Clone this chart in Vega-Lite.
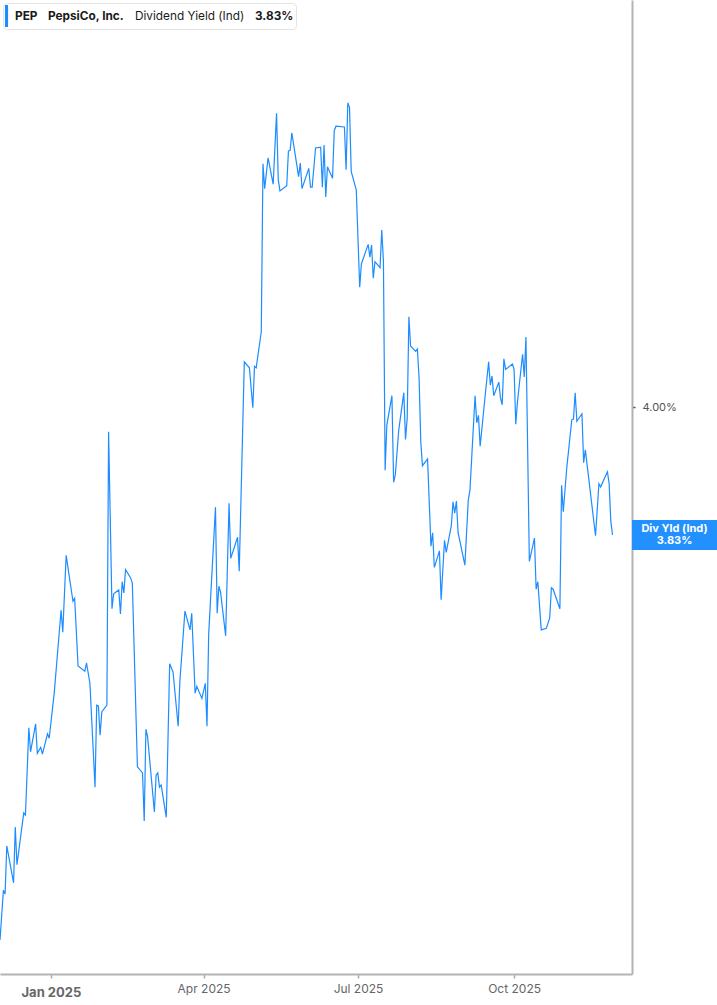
{
  "$schema": "https://vega.github.io/schema/vega-lite/v6.json",
  "autosize": {"type": "none"},
  "width": 632,
  "height": 974,
  "padding": {"left": 0, "top": 0, "right": 85, "bottom": 31},
  "background": "white",
  "config": {"view": {"stroke": null}, "font": "Inter"},
  "layer": [
    {
      "data": {"values": [
        {"date": "2024-12-02", "v": 3.292}, {"date": "2024-12-04", "v": 3.358}, {"date": "2024-12-05", "v": 3.353}, {"date": "2024-12-06", "v": 3.417},
        {"date": "2024-12-10", "v": 3.368}, {"date": "2024-12-11", "v": 3.442}, {"date": "2024-12-12", "v": 3.392}, {"date": "2024-12-16", "v": 3.461},
        {"date": "2024-12-17", "v": 3.458}, {"date": "2024-12-19", "v": 3.574}, {"date": "2024-12-20", "v": 3.542}, {"date": "2024-12-23", "v": 3.579},
        {"date": "2024-12-24", "v": 3.540}, {"date": "2024-12-26", "v": 3.548}, {"date": "2024-12-27", "v": 3.539}, {"date": "2024-12-30", "v": 3.566},
        {"date": "2024-12-31", "v": 3.560}, {"date": "2025-01-03", "v": 3.621}, {"date": "2025-01-07", "v": 3.730}, {"date": "2025-01-08", "v": 3.701},
        {"date": "2025-01-10", "v": 3.803}, {"date": "2025-01-14", "v": 3.742}, {"date": "2025-01-15", "v": 3.746}, {"date": "2025-01-17", "v": 3.656},
        {"date": "2025-01-21", "v": 3.649}, {"date": "2025-01-22", "v": 3.660}, {"date": "2025-01-24", "v": 3.633}, {"date": "2025-01-27", "v": 3.495},
        {"date": "2025-01-28", "v": 3.604}, {"date": "2025-01-29", "v": 3.603}, {"date": "2025-01-30", "v": 3.564}, {"date": "2025-01-31", "v": 3.595},
        {"date": "2025-02-03", "v": 3.604}, {"date": "2025-02-04", "v": 3.967}, {"date": "2025-02-06", "v": 3.732}, {"date": "2025-02-07", "v": 3.752},
        {"date": "2025-02-10", "v": 3.757}, {"date": "2025-02-11", "v": 3.725}, {"date": "2025-02-12", "v": 3.768}, {"date": "2025-02-13", "v": 3.753},
        {"date": "2025-02-14", "v": 3.784}, {"date": "2025-02-17", "v": 3.773}, {"date": "2025-02-18", "v": 3.766}, {"date": "2025-02-21", "v": 3.522},
        {"date": "2025-02-24", "v": 3.514}, {"date": "2025-02-25", "v": 3.450}, {"date": "2025-02-26", "v": 3.572}, {"date": "2025-02-27", "v": 3.562},
        {"date": "2025-03-03", "v": 3.462}, {"date": "2025-03-04", "v": 3.511}, {"date": "2025-03-05", "v": 3.514}, {"date": "2025-03-06", "v": 3.495},
        {"date": "2025-03-07", "v": 3.498}, {"date": "2025-03-10", "v": 3.455}, {"date": "2025-03-12", "v": 3.659}, {"date": "2025-03-14", "v": 3.648},
        {"date": "2025-03-17", "v": 3.576}, {"date": "2025-03-18", "v": 3.635}, {"date": "2025-03-21", "v": 3.729}, {"date": "2025-03-24", "v": 3.704},
        {"date": "2025-03-25", "v": 3.726}, {"date": "2025-03-27", "v": 3.620}, {"date": "2025-03-28", "v": 3.629}, {"date": "2025-03-31", "v": 3.613},
        {"date": "2025-04-02", "v": 3.633}, {"date": "2025-04-03", "v": 3.576}, {"date": "2025-04-04", "v": 3.698}, {"date": "2025-04-08", "v": 3.867},
        {"date": "2025-04-09", "v": 3.726}, {"date": "2025-04-10", "v": 3.762}, {"date": "2025-04-11", "v": 3.754}, {"date": "2025-04-14", "v": 3.696},
        {"date": "2025-04-16", "v": 3.872}, {"date": "2025-04-17", "v": 3.799}, {"date": "2025-04-21", "v": 3.827}, {"date": "2025-04-22", "v": 3.782},
        {"date": "2025-04-25", "v": 4.060}, {"date": "2025-04-28", "v": 4.052}, {"date": "2025-04-30", "v": 3.999}, {"date": "2025-05-01", "v": 4.054},
        {"date": "2025-05-02", "v": 4.052}, {"date": "2025-05-05", "v": 4.100}, {"date": "2025-05-06", "v": 4.323}, {"date": "2025-05-07", "v": 4.290},
        {"date": "2025-05-09", "v": 4.331}, {"date": "2025-05-12", "v": 4.296}, {"date": "2025-05-14", "v": 4.390}, {"date": "2025-05-15", "v": 4.302},
        {"date": "2025-05-16", "v": 4.287}, {"date": "2025-05-20", "v": 4.294}, {"date": "2025-05-21", "v": 4.340}, {"date": "2025-05-22", "v": 4.341},
        {"date": "2025-05-23", "v": 4.364}, {"date": "2025-05-27", "v": 4.306}, {"date": "2025-05-28", "v": 4.324}, {"date": "2025-05-29", "v": 4.290},
        {"date": "2025-06-02", "v": 4.317}, {"date": "2025-06-03", "v": 4.292}, {"date": "2025-06-04", "v": 4.292}, {"date": "2025-06-06", "v": 4.344},
        {"date": "2025-06-09", "v": 4.345}, {"date": "2025-06-10", "v": 4.292}, {"date": "2025-06-11", "v": 4.348}, {"date": "2025-06-12", "v": 4.279},
        {"date": "2025-06-13", "v": 4.319}, {"date": "2025-06-16", "v": 4.304}, {"date": "2025-06-17", "v": 4.367}, {"date": "2025-06-18", "v": 4.373},
        {"date": "2025-06-23", "v": 4.372}, {"date": "2025-06-24", "v": 4.315}, {"date": "2025-06-25", "v": 4.404}, {"date": "2025-06-26", "v": 4.398},
        {"date": "2025-06-27", "v": 4.313}, {"date": "2025-06-30", "v": 4.288}, {"date": "2025-07-02", "v": 4.159}, {"date": "2025-07-03", "v": 4.190},
        {"date": "2025-07-07", "v": 4.216}, {"date": "2025-07-08", "v": 4.199}, {"date": "2025-07-09", "v": 4.215}, {"date": "2025-07-10", "v": 4.171},
        {"date": "2025-07-11", "v": 4.193}, {"date": "2025-07-14", "v": 4.185}, {"date": "2025-07-15", "v": 4.235}, {"date": "2025-07-16", "v": 4.193},
        {"date": "2025-07-17", "v": 3.916}, {"date": "2025-07-18", "v": 3.976}, {"date": "2025-07-21", "v": 4.015}, {"date": "2025-07-22", "v": 3.900},
        {"date": "2025-07-23", "v": 3.910}, {"date": "2025-07-25", "v": 3.969}, {"date": "2025-07-28", "v": 4.019}, {"date": "2025-07-29", "v": 3.957},
        {"date": "2025-07-30", "v": 3.985}, {"date": "2025-07-31", "v": 4.120}, {"date": "2025-08-01", "v": 4.081}, {"date": "2025-08-04", "v": 4.074},
        {"date": "2025-08-05", "v": 4.077}, {"date": "2025-08-06", "v": 4.039}, {"date": "2025-08-07", "v": 3.954}, {"date": "2025-08-08", "v": 3.922},
        {"date": "2025-08-11", "v": 3.931}, {"date": "2025-08-13", "v": 3.815}, {"date": "2025-08-14", "v": 3.833}, {"date": "2025-08-15", "v": 3.787},
        {"date": "2025-08-18", "v": 3.809}, {"date": "2025-08-19", "v": 3.744}, {"date": "2025-08-21", "v": 3.823}, {"date": "2025-08-22", "v": 3.807},
        {"date": "2025-08-25", "v": 3.842}, {"date": "2025-08-26", "v": 3.874}, {"date": "2025-08-27", "v": 3.859}, {"date": "2025-08-28", "v": 3.875},
        {"date": "2025-08-29", "v": 3.833}, {"date": "2025-09-02", "v": 3.790}, {"date": "2025-09-04", "v": 3.876}, {"date": "2025-09-05", "v": 3.890},
        {"date": "2025-09-08", "v": 4.015}, {"date": "2025-09-09", "v": 3.979}, {"date": "2025-09-10", "v": 3.989}, {"date": "2025-09-11", "v": 3.948},
        {"date": "2025-09-14", "v": 4.016}, {"date": "2025-09-16", "v": 4.060}, {"date": "2025-09-17", "v": 4.029}, {"date": "2025-09-18", "v": 4.041},
        {"date": "2025-09-19", "v": 4.015}, {"date": "2025-09-22", "v": 4.033}, {"date": "2025-09-23", "v": 4.012}, {"date": "2025-09-24", "v": 4.003},
        {"date": "2025-09-25", "v": 4.064}, {"date": "2025-09-26", "v": 4.050}, {"date": "2025-09-30", "v": 4.057}, {"date": "2025-10-01", "v": 4.050},
        {"date": "2025-10-02", "v": 3.977}, {"date": "2025-10-03", "v": 4.007}, {"date": "2025-10-06", "v": 4.070}, {"date": "2025-10-07", "v": 4.040},
        {"date": "2025-10-08", "v": 4.093}, {"date": "2025-10-10", "v": 3.795}, {"date": "2025-10-13", "v": 3.826}, {"date": "2025-10-14", "v": 3.758},
        {"date": "2025-10-15", "v": 3.768}, {"date": "2025-10-17", "v": 3.704}, {"date": "2025-10-20", "v": 3.706}, {"date": "2025-10-22", "v": 3.720},
        {"date": "2025-10-23", "v": 3.760}, {"date": "2025-10-24", "v": 3.758}, {"date": "2025-10-28", "v": 3.732}, {"date": "2025-10-29", "v": 3.896},
        {"date": "2025-10-30", "v": 3.861}, {"date": "2025-11-01", "v": 3.918}, {"date": "2025-11-04", "v": 3.983}, {"date": "2025-11-05", "v": 3.984},
        {"date": "2025-11-06", "v": 4.019}, {"date": "2025-11-07", "v": 3.981}, {"date": "2025-11-10", "v": 3.991}, {"date": "2025-11-11", "v": 3.926},
        {"date": "2025-11-12", "v": 3.943}, {"date": "2025-11-18", "v": 3.829}, {"date": "2025-11-20", "v": 3.898}, {"date": "2025-11-21", "v": 3.894},
        {"date": "2025-11-25", "v": 3.914}, {"date": "2025-11-26", "v": 3.899}, {"date": "2025-11-27", "v": 3.849}, {"date": "2025-11-28", "v": 3.830}
      ]},
      "mark": {"type": "line", "color": "#1c8cff", "strokeWidth": 1.2, "interpolate": "linear"},
      "encoding": {
        "x": {
          "field": "date", "type": "temporal",
          "scale": {"type": "utc", "domain": [{"year": 2024, "month": 12, "date": 2, "utc": true}, {"year": 2025, "month": 12, "date": 9, "hours": 12, "utc": true}]},
          "axis": {
            "title": null, "grid": false,
            "values": [{"year": 2025, "month": 1, "date": 1, "utc": true}, {"year": 2025, "month": 4, "date": 1, "utc": true}, {"year": 2025, "month": 7, "date": 1, "utc": true}, {"year": 2025, "month": 10, "date": 1, "utc": true}],
            "labelExpr": "utcFormat(datum.value, '%b %Y')",
            "domainColor": "#b3b3b3", "domainWidth": 2,
            "tickColor": "#aaaaaa", "tickSize": 4, "tickWidth": 1.5,
            "labelFont": "Inter", "labelColor": "#666666", "labelAlign": "center", "labelPadding": 5,
            "labelLineHeight": 19,
            "labelBaseline": {"condition": {"test": "utcmonth(datum.value) == 0", "value": "line-top"}, "value": "top"},
            "labelFontSize": {"condition": {"test": "utcmonth(datum.value) == 0", "value": 13}, "value": 12},
            "labelFontWeight": {"condition": {"test": "utcmonth(datum.value) == 0", "value": "bold"}, "value": "normal"}
          }
        },
        "y": {
          "field": "v", "type": "quantitative",
          "scale": {"domain": [3.2469, 4.5406], "zero": false, "nice": false},
          "axis": {
            "orient": "right", "title": null, "grid": false, "values": [4],
            "labelExpr": "format(datum.value, '.2f') + '%'",
            "domainColor": "#b3b3b3", "domainWidth": 2,
            "tickColor": "#555555", "tickSize": 3, "tickWidth": 1.5,
            "labelFont": "Inter", "labelFontSize": 11, "labelColor": "#555555", "labelPadding": 7
          }
        }
      }
    },
    {
      "data": {"values": [{"s": "PEP"}]},
      "transform": [{"filter": "false"}],
      "mark": {"type": "point", "filled": true, "opacity": 1},
      "encoding": {
        "color": {
          "field": "s", "type": "nominal",
          "scale": {"domain": ["PEP", "PepsiCo, Inc.", "Dividend Yield (Ind)", "3.83%"], "range": ["#1c8cff", "#ffffff", "#ffffff", "#ffffff"]},
          "legend": {
            "orient": "top-left", "offset": 3, "direction": "horizontal", "title": null,
            "symbolType": "M-1,-1L-0.72,-1L-0.72,1L-1,1Z", "symbolSize": 484, "symbolStrokeWidth": 0, "symbolOpacity": 1,
            "labelOffset": -12, "columnPadding": 0, "padding": 2, "gridAlign": "each",
            "labelFont": "Inter", "labelFontSize": 11.8, "labelColor": "#1a1a1a", "labelLimit": 300,
            "labelFontWeight": {"expr": "datum.label == 'Dividend Yield (Ind)' ? 'normal' : 'bold'"},
            "fillColor": "white", "strokeColor": "#e3e3e3", "cornerRadius": 4
          }
        }
      }
    },
    {
      "data": {"values": [{"label": "Div Yld (Ind)\n3.83%", "v": 3.83}]},
      "mark": {"type": "point", "shape": "M0,-0.353L2,-0.353L2,0.353L0,0.353Z", "size": 7225, "filled": true, "opacity": 1, "color": "#2291ff", "strokeWidth": 0},
      "encoding": {
        "x": {"datum": {"year": 2025, "month": 12, "date": 9, "hours": 12, "utc": true}, "type": "temporal"},
        "y": {"field": "v", "type": "quantitative"}
      }
    },
    {
      "data": {"values": [{"label": "Div Yld (Ind)\n3.83%", "v": 3.83}]},
      "mark": {"type": "text", "dx": 42.5, "dy": -5.5, "align": "center", "baseline": "middle", "lineBreak": "\n", "lineHeight": 12, "font": "Inter", "fontSize": 11, "fontWeight": "bold", "color": "white"},
      "encoding": {
        "x": {"datum": {"year": 2025, "month": 12, "date": 9, "hours": 12, "utc": true}, "type": "temporal"},
        "y": {"field": "v", "type": "quantitative"},
        "text": {"field": "label"}
      }
    }
  ]
}
